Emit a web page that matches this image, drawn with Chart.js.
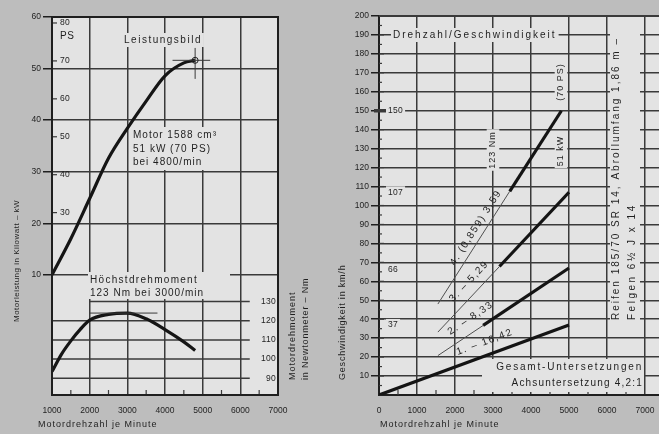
<!DOCTYPE html>
<html>
<head>
<meta charset="utf-8">
<script src="https://cdn.jsdelivr.net/npm/chart.js@4/dist/chart.umd.min.js"></script>
<style>
    html, body {margin: 0; padding: 0; width: 659px; height: 434px; overflow: hidden; background: #bdbdbd;}
    #left {position: absolute; left: 0; top: 0;}
    #right {position: absolute; left: 330px; top: 0;}
</style>
</head>
<body>
<canvas id="left" width="330" height="434"></canvas>
<canvas id="right" width="340" height="434"></canvas>
<script>
// Leistungsbild (left panel)
const powerRpm = [1000, 1500, 2000, 2500, 3000, 3500, 4000, 4500, 4800];
const powerKw = [10, 17, 24.8, 32.6, 38.4, 43.7, 48.6, 51.1, 51.6];
const torqueRpm = [1000, 1250, 1500, 1750, 2000, 2500, 3000, 3500, 4000, 4500, 4800];
const torqueNm = [93.5, 102.5, 109.5, 115.5, 120.3, 123.3, 124, 121, 115.4, 109, 104.5];
const rpmTicksLeft = [1000, 2000, 3000, 4000, 5000, 6000, 7000];
const kwTicks = [10, 20, 30, 40, 50, 60];
const psTicks = [30, 40, 50, 60, 70, 80];
const nmTicks = [90, 100, 110, 120, 130];

// Drehzahl/Geschwindigkeit (right panel)
const rpmTicksRight = [0, 1000, 2000, 3000, 4000, 5000, 6000, 7000];
const kmhTicks = [10, 20, 30, 40, 50, 60, 70, 80, 90, 100, 110, 120, 130, 140, 150, 160, 170, 180, 190, 200];
const gear1Rpm = [0, 5000], gear1Kmh = [0, 37];
const gear2ThinRpm = [1550, 2740], gear2ThinKmh = [20.8, 36.7];
const gear2Rpm = [2740, 5000], gear2Kmh = [36.7, 67];
const gear3ThinRpm = [1550, 3170], gear3ThinKmh = [33.2, 67.8];
const gear3Rpm = [3170, 5000], gear3Kmh = [67.8, 107];
const gear4ThinRpm = [1550, 3440], gear4ThinKmh = [48, 107.5];
const gear4Rpm = [3440, 4800], gear4Kmh = [107.5, 150];
const gearLabels = ['1. – 16,42', '2. – 8,33', '3. – 5,29', '4. (0,859) 3,59'];
const maxSpeeds = [150, 107, 66, 37];

const INK = '#1f1f1f';
const GRID = '#3a3a3a';
const PAPER = '#e3e3e3';
const FONT = '"Liberation Sans", Arial, sans-serif';
const KW_PER_PS = 0.7355;

function pts(xs, ys) {
    return xs.map((x, i) => ({x: x, y: ys[i]}));
}

function text(ctx, s, x, y, size, o = {}) {
    ctx.save();
    ctx.font = `${size}px ${FONT}`;
    ctx.letterSpacing = (o.spacing === undefined ? 1 : o.spacing) + 'px';
    ctx.textAlign = o.align || 'left';
    ctx.textBaseline = 'middle';
    ctx.translate(x, y);
    if (o.rot) ctx.rotate(o.rot);
    if (o.box) {
        const w = ctx.measureText(s).width;
        const x0 = ctx.textAlign === 'center' ? -w / 2 : (ctx.textAlign === 'right' ? -w : 0);
        ctx.fillStyle = PAPER;
        ctx.fillRect(x0 - 2, -size * 0.7, w + 4, size * 1.4);
    }
    ctx.fillStyle = INK;
    ctx.fillText(s, 0, 0);
    ctx.restore();
}

function line(ctx, x0, y0, x1, y1, w) {
    ctx.save();
    ctx.strokeStyle = GRID;
    ctx.lineWidth = w || 1.5;
    ctx.beginPath();
    ctx.moveTo(x0, y0);
    ctx.lineTo(x1, y1);
    ctx.stroke();
    ctx.restore();
}

function box(ctx, x, y, w, h) {
    ctx.save();
    ctx.fillStyle = PAPER;
    ctx.fillRect(x, y, w, h);
    ctx.restore();
}

const paper = {
    id: 'paper',
    beforeDraw(chart) {
        const {ctx, chartArea: a} = chart;
        box(ctx, a.left, a.top, a.right - a.left, a.bottom - a.top);
    }
};

const tickFont = {size: 8.5, family: FONT};
const numLabel = v => String(v);

const leftDeco = {
    id: 'leftDeco',
    beforeDatasetsDraw(chart) {
        const {ctx, chartArea: a, scales: {x, ps, nm}} = chart;
        // torque grid lines and labels
        nmTicks.forEach(v => {
            const y = nm.getPixelForValue(v);
            line(ctx, x.getPixelForValue(v === 130 ? 2000 : 1000), y, x.getPixelForValue(6250), y);
            text(ctx, String(v), a.right - 2, y, 8.5, {align: 'right', spacing: 0.3});
        });
        // PS scale inside the plot
        psTicks.forEach(v => {
            const y = ps.getPixelForValue(v);
            line(ctx, a.left, y, a.left + 5, y, 1.2);
            text(ctx, String(v), a.left + 8, y, 8.5, {spacing: 0.3});
        });
        text(ctx, 'PS', a.left + 8, ps.getPixelForValue(80) + 13, 10, {spacing: 0.5});
        // small ticks on the bottom edge
        [1500, 2500, 3500, 4500, 5500, 6500].forEach(v => {
            const px = x.getPixelForValue(v);
            line(ctx, px, a.bottom, px, a.bottom - 5, 1.2);
        });
        text(ctx, 'Leistungsbild', 163, 40, 10, {align: 'center', spacing: 1.5, box: true});
        box(ctx, 130, 127, 100, 43);
        text(ctx, 'Motor 1588 cm³', 133, 135, 10, {spacing: 1});
        text(ctx, '51 kW (70 PS)', 133, 149, 10, {spacing: 1});
        text(ctx, 'bei 4800/min', 133, 162, 10, {spacing: 1});
        box(ctx, 88, 272, 142, 27);
        text(ctx, 'Höchstdrehmoment', 90, 280, 10, {spacing: 1.3});
        text(ctx, '123 Nm bei 3000/min', 90, 293, 10, {spacing: 1});
    },
    afterDatasetsDraw(chart) {
        const {ctx, scales: {x, kw, nm}} = chart;
        // peak markers
        const px = x.getPixelForValue(powerRpm[powerRpm.length - 1]);
        const py = kw.getPixelForValue(powerKw[powerKw.length - 1]);
        line(ctx, x.getPixelForValue(4200), py, x.getPixelForValue(5200), py, 1);
        line(ctx, px, kw.getPixelForValue(54), px, kw.getPixelForValue(48), 1);
        ctx.save();
        ctx.strokeStyle = INK;
        ctx.beginPath();
        ctx.arc(px, py, 3, 0, Math.PI * 2);
        ctx.stroke();
        ctx.restore();
        const ty = nm.getPixelForValue(124);
        line(ctx, x.getPixelForValue(2000), ty, x.getPixelForValue(3800), ty, 1);
    },
    afterDraw(chart) {
        const {ctx, chartArea: a} = chart;
        ctx.save();
        ctx.strokeStyle = INK;
        ctx.lineWidth = 2;
        ctx.strokeRect(a.left, a.top, a.right - a.left, a.bottom - a.top);
        ctx.restore();
        text(ctx, 'Motorleistung in Kilowatt – kW', 17, 322, 8, {rot: -Math.PI / 2, spacing: 0.5});
        text(ctx, 'Motordrehmoment', 293, 380, 9, {rot: -Math.PI / 2, spacing: 1});
        text(ctx, 'in Newtonmeter – Nm', 306, 380, 9, {rot: -Math.PI / 2, spacing: 0.8});
        text(ctx, 'Motordrehzahl je Minute', 38, 425, 9, {spacing: 1});
    }
};

new Chart(document.getElementById('left'), {
    type: 'line',
    data: {
        datasets: [
            {data: pts(powerRpm, powerKw), yAxisID: 'kw', borderColor: '#151515', borderWidth: 3.2,
                pointRadius: 0, cubicInterpolationMode: 'monotone'},
            {data: pts(torqueRpm, torqueNm), yAxisID: 'nm', borderColor: '#151515', borderWidth: 3.2,
                pointRadius: 0, cubicInterpolationMode: 'monotone'}
        ]
    },
    options: {
        responsive: false,
        animation: false,
        devicePixelRatio: 1,
        layout: {padding: {top: 17, right: 52, bottom: 0, left: 0}},
        plugins: {legend: {display: false}, tooltip: {enabled: false}},
        scales: {
            x: {
                type: 'linear', min: 1000, max: 7000,
                afterBuildTicks: s => { s.ticks = rpmTicksLeft.map(v => ({value: v})); },
                afterFit: s => { s.height = 39; },
                ticks: {color: INK, font: tickFont, padding: 11, maxRotation: 0, autoSkip: false, callback: numLabel},
                grid: {color: GRID, lineWidth: 1.5, drawTicks: false},
                border: {color: INK, width: 2}
            },
            kw: {
                type: 'linear', axis: 'y', position: 'left', min: -13.3, max: 60,
                afterBuildTicks: s => { s.ticks = kwTicks.map(v => ({value: v})); },
                afterFit: s => { s.width = 52; },
                ticks: {color: INK, font: tickFont, padding: 2, callback: numLabel},
                grid: {color: GRID, lineWidth: 1.5, tickLength: 9, tickColor: INK, tickWidth: 1.5},
                border: {color: INK, width: 2}
            },
            ps: {type: 'linear', axis: 'y', position: 'left', display: false, min: -13.3 / KW_PER_PS, max: 60 / KW_PER_PS},
            nm: {type: 'linear', axis: 'y', position: 'right', display: false, min: 81.3, max: 278.3}
        }
    },
    plugins: [paper, leftDeco]
});

const rightDeco = {
    id: 'rightDeco',
    beforeDatasetsDraw(chart) {
        const {ctx, chartArea: a, scales: {x, y}} = chart;
        // inner ticks on the speed axis
        for (let v = 5; v < 200; v += 5) {
            const py = y.getPixelForValue(v);
            line(ctx, a.left, py, a.left + (v % 10 ? 3 : 5), py, 1.2);
        }
        [500, 1500, 2500, 3500, 4500, 5500, 6500].forEach(v => {
            const px = x.getPixelForValue(v);
            line(ctx, px, a.bottom, px, a.bottom - 5, 1.2);
        });
        maxSpeeds.forEach(v => {
            const py = y.getPixelForValue(v);
            text(ctx, String(v), a.left + 9, py, 8.5, {spacing: 0.3, box: true});
        });
        line(ctx, a.left - 5, y.getPixelForValue(150), a.left + 7, y.getPixelForValue(150), 3.5);
        text(ctx, 'Drehzahl/Geschwindigkeit', 63, 35, 10, {spacing: 2, box: true});
        text(ctx, '123 Nm', x.getPixelForValue(3000), 150, 9, {rot: -Math.PI / 2, align: 'center', spacing: 1, box: true});
        text(ctx, '(70 PS)', 231, 82, 9, {rot: -Math.PI / 2, align: 'center', spacing: 1, box: true});
        text(ctx, '51 kW', 231, 151, 9, {rot: -Math.PI / 2, align: 'center', spacing: 1, box: true});
        box(ctx, 280, 25, 30, 297);
        text(ctx, 'Reifen 185/70 SR 14, Abrollumfang 1,86 m –', 286, 320, 10, {rot: -Math.PI / 2, spacing: 2});
        text(ctx, 'Felgen 6½ J x 14', 302, 320, 10, {rot: -Math.PI / 2, spacing: 2.5});
        box(ctx, 152, 359, 162, 33);
        text(ctx, 'Gesamt-Untersetzungen', 313, 367, 10, {align: 'right', spacing: 1.8});
        text(ctx, 'Achsuntersetzung 4,2:1', 313, 383, 10, {align: 'right', spacing: 1.2});
        // gear labels along the lines
        const gears = [[gear1Rpm, gear1Kmh, 2900, 13], [gear2ThinRpm, gear2ThinKmh, 2600, 13],
            [gear3ThinRpm, gear3ThinKmh, 2600, 12], [gear4ThinRpm, gear4ThinKmh, 2750, 9]];
        gears.forEach(([rs, vs, at, off], i) => {
            const x0 = x.getPixelForValue(rs[0]), y0 = y.getPixelForValue(vs[0]);
            const x1 = x.getPixelForValue(rs[1]), y1 = y.getPixelForValue(vs[1]);
            const ang = Math.atan2(y1 - y0, x1 - x0);
            const t = (at - rs[0]) / (rs[1] - rs[0]);
            const cx = x0 + (x1 - x0) * t + Math.sin(ang) * off;
            const cy = y0 + (y1 - y0) * t - Math.cos(ang) * off;
            text(ctx, gearLabels[i], cx, cy, 10, {rot: ang, align: 'center', spacing: 1.5});
        });
    },
    afterDraw(chart) {
        const {ctx, chartArea: a} = chart;
        line(ctx, a.left, a.top, a.right, a.top, 2);
        text(ctx, 'Geschwindigkeit in km/h', 13, 380, 9, {rot: -Math.PI / 2, spacing: 0.8});
        text(ctx, 'Motordrehzahl je Minute', 50, 425, 9, {spacing: 1});
    }
};

const thick = (xs, ys) => ({data: pts(xs, ys), borderColor: '#141414', borderWidth: 3.2, pointRadius: 0});
const thin = (xs, ys) => ({data: pts(xs, ys), borderColor: '#505050', borderWidth: 1, pointRadius: 0});

new Chart(document.getElementById('right'), {
    type: 'line',
    data: {
        datasets: [
            thin(gear2ThinRpm, gear2ThinKmh), thin(gear3ThinRpm, gear3ThinKmh), thin(gear4ThinRpm, gear4ThinKmh),
            thick(gear1Rpm, gear1Kmh), thick(gear2Rpm, gear2Kmh), thick(gear3Rpm, gear3Kmh), thick(gear4Rpm, gear4Kmh)
        ]
    },
    options: {
        responsive: false,
        animation: false,
        devicePixelRatio: 1,
        layout: {padding: {top: 16, right: 6, bottom: 0, left: 0}},
        plugins: {legend: {display: false}, tooltip: {enabled: false}},
        scales: {
            x: {
                type: 'linear', min: 0, max: 7500,
                afterBuildTicks: s => { s.ticks = rpmTicksRight.map(v => ({value: v})); },
                afterFit: s => { s.height = 39; },
                ticks: {color: INK, font: tickFont, padding: 11, maxRotation: 0, autoSkip: false, callback: numLabel},
                grid: {color: GRID, lineWidth: 1.5, drawTicks: false},
                border: {color: INK, width: 2}
            },
            y: {
                type: 'linear', min: 0, max: 200,
                afterBuildTicks: s => { s.ticks = kmhTicks.map(v => ({value: v})); },
                afterFit: s => { s.width = 49; },
                ticks: {color: INK, font: tickFont, padding: 2, autoSkip: false, callback: numLabel},
                grid: {color: GRID, lineWidth: 1.5, tickLength: 8, tickColor: INK, tickWidth: 1.5},
                border: {color: INK, width: 2}
            }
        }
    },
    plugins: [paper, rightDeco]
});
</script>
</body>
</html>
